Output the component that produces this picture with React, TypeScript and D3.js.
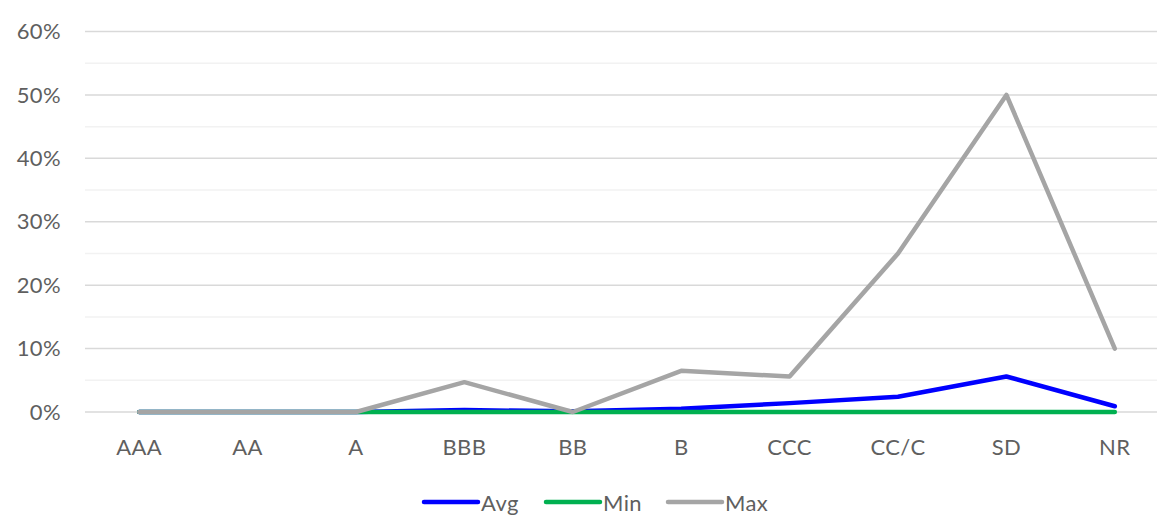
import React, { useEffect, useRef } from 'react'
import * as d3 from 'd3'

const categories = ['AAA', 'AA', 'A', 'BBB', 'BB', 'B', 'CCC', 'CC/C', 'SD', 'NR']
const avgValues = [0, 0, 0, 0.3, 0.1, 0.5, 1.4, 2.4, 5.6, 0.9]
const minValues = [0, 0, 0, 0, 0, 0, 0, 0, 0, 0]
const maxValues = [0, 0, 0, 4.7, 0, 6.5, 5.6, 25, 50, 10]
const seriesNames = ['Avg', 'Min', 'Max']
const yTicks = [0, 10, 20, 30, 40, 50, 60]

const colors: Record<string, string> = { Avg: '#0000FF', Min: '#00B050', Max: '#A5A5A5' }
const FONT = 'Lato, "Open Sans", sans-serif'

const App: React.FC = () => {
  const svgRef = useRef<SVGSVGElement>(null)
  const width = 1157
  const height = 516

  useEffect(() => {
    if (!svgRef.current) return
    const svg = d3.select(svgRef.current)
    svg.selectAll('*').remove()

    const margin = { top: 31.5, right: -12, bottom: 104, left: 85 }
    const chartW = width - margin.left - margin.right
    const chartH = height - margin.top - margin.bottom

    const x = d3.scaleBand().domain(categories).range([0, chartW])
    const y = d3.scaleLinear().domain([0, 60]).range([chartH, 0])

    const g = svg.append('g').attr('transform', `translate(${margin.left},${margin.top})`)

    // minor gridlines
    g.selectAll('line.minor')
      .data(d3.range(5, 60, 10))
      .enter()
      .append('line')
      .attr('x1', 0)
      .attr('x2', chartW)
      .attr('y1', (d) => y(d))
      .attr('y2', (d) => y(d))
      .attr('stroke', '#F2F2F2')
      .attr('stroke-width', 1.5)

    // major gridlines
    g.selectAll('line.major')
      .data(yTicks)
      .enter()
      .append('line')
      .attr('x1', 0)
      .attr('x2', chartW)
      .attr('y1', (d) => y(d))
      .attr('y2', (d) => y(d))
      .attr('stroke', '#D9D9D9')
      .attr('stroke-width', 1.5)

    const label = (sel: d3.Selection<SVGTextElement, any, any, any>) =>
      sel
        .attr('fill', '#5F5F5F')
        .attr('font-family', FONT)
        .attr('font-size', '22px')
        .attr('letter-spacing', '0.4px')

    // y labels
    g.selectAll('text.ylab')
      .data(yTicks)
      .enter()
      .append('text')
      .attr('x', -24)
      .attr('y', (d) => y(d))
      .attr('dy', '0.35em')
      .attr('text-anchor', 'end')
      .call(label)
      .text((d) => `${d}%`)

    // x labels
    g.selectAll('text.xlab')
      .data(categories)
      .enter()
      .append('text')
      .attr('x', (d) => (x(d) || 0) + x.bandwidth() / 2)
      .attr('y', chartH + 35)
      .attr('dy', '0.35em')
      .attr('text-anchor', 'middle')
      .call(label)
      .text((d) => d)

    const series = [
      { name: 'Avg', values: avgValues },
      { name: 'Min', values: minValues },
      { name: 'Max', values: maxValues },
    ]

    const line = d3
      .line<number>()
      .x((_d, i) => (x(categories[i]) || 0) + x.bandwidth() / 2)
      .y((d) => y(d))

    series.forEach((s) => {
      g.append('path')
        .datum(s.values)
        .attr('d', line)
        .attr('fill', 'none')
        .attr('stroke', colors[s.name])
        .attr('stroke-width', 4.5)
        .attr('stroke-linejoin', 'round')
        .attr('stroke-linecap', 'round')
    })

    // legend
    const legendX = [424, 546, 668]
    const legend = svg.append('g')
    seriesNames.forEach((name, i) => {
      legend
        .append('line')
        .attr('x1', legendX[i])
        .attr('x2', legendX[i] + 54)
        .attr('y1', 502)
        .attr('y2', 502)
        .attr('stroke', colors[name])
        .attr('stroke-width', 4.5)
        .attr('stroke-linecap', 'round')
      legend
        .append('text')
        .attr('x', legendX[i] + 57)
        .attr('y', 503)
        .attr('dy', '0.35em')
        .call(label)
        .text(name)
    })
  }, [])

  return (
    <svg
      ref={svgRef}
      width={width}
      height={height}
      style={{ position: 'absolute', left: 0, top: 0, background: '#fff' }}
    />
  )
}

export default App
